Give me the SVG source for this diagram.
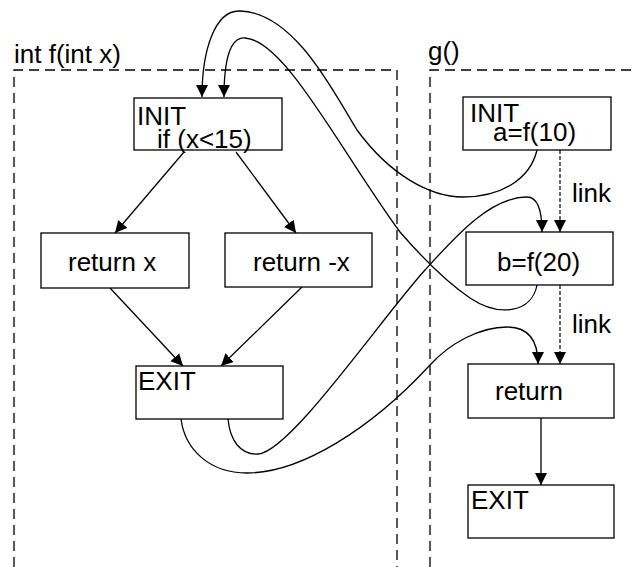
<svg xmlns="http://www.w3.org/2000/svg" width="637" height="567" viewBox="0 0 637 567">
<defs>
<marker id="ah" markerUnits="userSpaceOnUse" markerWidth="13" markerHeight="13" refX="12" refY="6" orient="auto">
<path d="M0,0 L12,6 L0,12 z" fill="#000"/>
</marker>
<style>
text{font-family:"Liberation Sans",Arial,sans-serif;font-size:26px;fill:#000}
.box{fill:#fff;stroke:#000;stroke-width:1.3}
.frame{fill:none;stroke:#000;stroke-width:1.3;stroke-dasharray:10,6}
.e{fill:none;stroke:#000;stroke-width:1.3;marker-end:url(#ah)}
.lk{fill:none;stroke:#000;stroke-width:1.2;stroke-dasharray:4,2;marker-end:url(#ah)}
</style>
</defs>
<rect width="637" height="567" fill="#fff"/>
<g id="frame-f">
<path class="frame" d="M14,567 L14,70 L397,70 L397,567"/>
<text x="14" y="63">int f(int x)</text>
</g>
<g id="frame-g">
<path class="frame" d="M430,567 L430,70 L637,70"/>
<text x="428" y="60">g()</text>
</g>
<g id="connectors">
<path class="e" d="M184,152 L115,233"/>
<path class="e" d="M236,152 L296,233"/>
<path class="e" d="M110,288 L183,366"/>
<path class="e" d="M302,287 L221,366"/>
<path class="e" d="M541,418 L541,485"/>
<path class="lk" d="M560,150 L560,232"/>
<path class="lk" d="M560,285 L560,364"/>
<path class="e" d="M537,150 C530,180 500,197 463,197 C430,197 390,175 357,130 C335,95 295,12 240,11 C215,10 202,50 202,97"/>
<path class="e" d="M537,285 C532,312 500,318 470,298 C445,281 420,255 400,232 C340,150 285,40 245,38 C230,37 224,60 224,97"/>
<path class="e" d="M228,419 C230,440 240,455 258,454 C290,452 380,320 425,270 C455,237 490,197 527,197 C537,197 542,210 542,232"/>
<path class="e" d="M181,419 C185,450 210,473 247,473 C300,473 370,430 430,365 C450,343 480,327 507,327 C528,327 538,340 538,364"/>
<text x="572" y="202">link</text>
<text x="572" y="333">link</text>
</g>
<g id="f-init">
<rect class="box" x="134" y="98" width="148" height="52"/>
<text x="137" y="125">INIT</text>
<text x="157" y="148">if (x&lt;15)</text>
</g>
<g id="f-return-x">
<rect class="box" x="41" y="233" width="148" height="55"/>
<text x="68" y="271">return x</text>
</g>
<g id="f-return-neg-x">
<rect class="box" x="225" y="233" width="147" height="54"/>
<text x="253" y="271">return -x</text>
</g>
<g id="f-exit">
<rect class="box" x="136" y="366" width="147" height="53"/>
<text x="138" y="390">EXIT</text>
</g>
<g id="g-init">
<rect class="box" x="463" y="97" width="148" height="53"/>
<text x="470" y="122">INIT</text>
<text x="493" y="141">a=f(10)</text>
</g>
<g id="g-call">
<rect class="box" x="466" y="232" width="147" height="53"/>
<text x="497" y="271">b=f(20)</text>
</g>
<g id="g-return">
<rect class="box" x="468" y="364" width="146" height="54"/>
<text x="495" y="400">return</text>
</g>
<g id="g-exit">
<rect class="box" x="468" y="485" width="146" height="53"/>
<text x="471" y="509">EXIT</text>
</g>
</svg>
